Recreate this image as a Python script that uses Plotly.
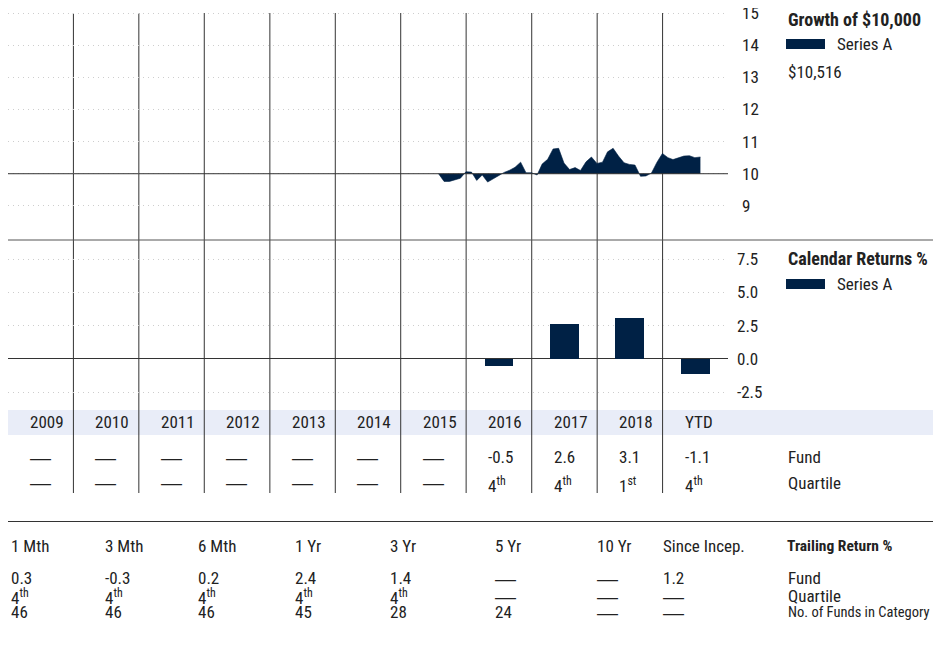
import plotly.graph_objects as go
import pandas as pd

W, H = 949, 652
FONT = "Roboto Condensed, Liberation Sans Narrow, Arial Narrow, DejaVu Sans Condensed, Roboto, sans-serif"
DASH_FONT = "Liberation Sans, Arial, sans-serif"
TXT = "#222222"
NAVY = "#002145"
GRID = "#cdcdcd"
LINE = "#333333"

# ---------------- data ----------------
years = ["2009", "2010", "2011", "2012", "2013", "2014", "2015", "2016", "2017", "2018", "YTD"]
growth_dates = pd.date_range("2015-07-31", "2019-07-31", freq="ME")
growth_values = [10.00, 9.76, 9.76, 9.80, 9.86, 10.06, 10.05, 9.79, 9.96, 9.74, 9.85, 9.95,
                 10.04, 10.11, 10.20, 10.36, 10.03, 10.03, 9.96, 10.30, 10.45, 10.77, 10.79, 10.33,
                 10.13, 10.19, 10.10, 10.37, 10.52, 10.32, 10.36, 10.68, 10.79, 10.55, 10.34, 10.29,
                 10.27, 9.92, 9.93, 10.02, 10.35, 10.63, 10.50, 10.44, 10.50, 10.55, 10.56, 10.50,
                 10.52]
growth_base = 10
growth_end_label = "$10,516"
growth_ticks = [9, 10, 11, 12, 13, 14, 15]
calendar_returns = [None, None, None, None, None, None, None, -0.5, 2.6, 3.1, -1.1]
calendar_quartile = [None, None, None, None, None, None, None, "4th", "4th", "1st", "4th"]
return_ticks = [-2.5, 0.0, 2.5, 5.0, 7.5]
return_ticktext = ["-2.5", "0.0", "2.5", "5.0", "7.5"]
trailing_periods = ["1 Mth", "3 Mth", "6 Mth", "1 Yr", "3 Yr", "5 Yr", "10 Yr", "Since Incep."]
trailing_fund = [0.3, -0.3, 0.2, 2.4, 1.4, None, None, 1.2]
trailing_quartile = ["4th", "4th", "4th", "4th", "4th", None, None, None]
trailing_count = [46, 46, 46, 45, 28, 24, None, None]
series_name = "Series A"

# ---------------- helpers (page pixel -> paper, page has 8px body margin) ----------------
OFF = 8


def px(x):
    return (x - OFF) / W


def py(y):
    return 1 - (y - OFF) / H


DASH = "—"
DASH_FS = 21
FS = 17


def qfmt(q):
    return f"{q[0]}<sup>{q[1:]}</sup>"


col_start = [f"{2009 + i}-01-01" for i in range(len(years))]
col_mid = [f"{2009 + i}-07-02" for i in range(len(years))]
year_ms = 365.25 * 24 * 3600 * 1000

fig = go.Figure()

# growth area: baseline at 10 and series filled to it
fig.add_trace(go.Scatter(x=growth_dates, y=[growth_base] * len(growth_values), mode="lines",
                         line=dict(width=0, color=NAVY), hoverinfo="skip", showlegend=False,
                         xaxis="x", yaxis="y"))
fig.add_trace(go.Scatter(x=growth_dates, y=growth_values, mode="lines", fill="tonexty",
                         fillcolor=NAVY, line=dict(width=0.6, color=NAVY), name=series_name,
                         showlegend=False, xaxis="x", yaxis="y"))

# calendar bars
fig.add_trace(go.Bar(x=col_mid, y=calendar_returns, marker=dict(color=NAVY, line=dict(width=0)),
                     width=[0.44 * year_ms] * len(years), name=series_name, showlegend=False,
                     xaxis="x2", yaxis="y2"))

xdom = [px(8), px(728)]
xr = [col_start[0], "2020-01-01"]
tickfont = dict(family=FONT, size=FS, color=TXT)
fig.update_layout(
    width=W, height=H, margin=dict(l=0, r=0, t=0, b=0, pad=0), autosize=False,
    paper_bgcolor="white", plot_bgcolor="white",
    font=dict(family=FONT, size=FS, color=TXT),
    xaxis=dict(domain=xdom, range=xr, type="date", showgrid=False, showticklabels=False,
               zeroline=False, showline=False, anchor="y", automargin=False),
    yaxis=dict(domain=[py(238), py(11.4)], range=[8, 15.05], side="right", tickvals=growth_ticks,
               showgrid=True, gridcolor=GRID, griddash="1px,4px", gridwidth=1, zeroline=False,
               ticks="", ticklabelstandoff=13, anchor="x", automargin=False, tickfont=tickfont,
               ticklabeloverflow="allow"),
    xaxis2=dict(domain=xdom, range=xr, type="date", showgrid=False, showticklabels=False,
                zeroline=False, showline=False, matches="x", anchor="y2", automargin=False),
    yaxis2=dict(domain=[py(410), py(240)], range=[-3.83, 8.93], side="right", tickvals=return_ticks,
                ticktext=return_ticktext, showgrid=True, gridcolor=GRID, griddash="1px,4px", gridwidth=1,
                zeroline=True, zerolinecolor=LINE, zerolinewidth=1, ticks="", ticklabelstandoff=8,
                anchor="x2", automargin=False, tickfont=tickfont, ticklabeloverflow="allow"),
    bargap=0,
)

shapes = []
# year band
shapes.append(dict(type="rect", xref="paper", yref="paper", x0=px(8), x1=px(933), y0=py(435), y1=py(410),
                   fillcolor="#e9edf8", line=dict(width=0), layer="below"))
# vertical year separators
for i in range(1, len(years)):
    shapes.append(dict(type="line", xref="x", yref="paper", x0=col_start[i], x1=col_start[i],
                       y0=py(493), y1=py(13), line=dict(color=LINE, width=1), layer="below"))
# 10,000 base line
shapes.append(dict(type="line", xref="paper", yref="y", x0=px(8), x1=px(728), y0=growth_base, y1=growth_base,
                   line=dict(color=LINE, width=1), layer="above"))
# separators
shapes.append(dict(type="line", xref="paper", yref="paper", x0=px(8), x1=px(933), y0=py(240), y1=py(240),
                   line=dict(color="#555555", width=1)))
shapes.append(dict(type="line", xref="paper", yref="paper", x0=px(8), x1=px(933), y0=py(521.5), y1=py(521.5),
                   line=dict(color="#333333", width=1)))
# legend swatches
for yc in (44, 284):
    shapes.append(dict(type="rect", xref="paper", yref="paper", x0=px(786), x1=px(825), y0=py(yc + 5),
                       y1=py(yc - 5), fillcolor=NAVY, line=dict(width=0)))
fig.update_layout(shapes=shapes)

ann = []


def text(x, y, s, size=FS, bold=False, xref="paper", xshift=0, yshift=0, family=FONT):
    ann.append(dict(x=x, y=y, xref=xref, yref="paper", text=(f"<b>{s}</b>" if bold else s),
                    showarrow=False, xanchor="left", yanchor="middle", xshift=xshift, yshift=yshift,
                    font=dict(family=family, size=size, color=TXT)))


def dash(x, y, xref="paper", xshift=0):
    text(x, y, DASH, size=DASH_FS, xref=xref, xshift=xshift, family=DASH_FONT)


# legends
text(px(786), py(19), "Growth of $10,000", size=18, bold=True)
text(px(835), py(44), series_name)
text(px(786), py(72), growth_end_label)
text(px(786), py(258), "Calendar Returns %", size=18, bold=True)
text(px(835), py(284), series_name)

# calendar table
CX = 20
for i, yr in enumerate(years):
    text(col_start[i], py(422), yr, xref="x2", xshift=CX)
    v = calendar_returns[i]
    if v is None:
        dash(col_start[i], py(457), xref="x2", xshift=CX)
    else:
        text(col_start[i], py(457), f"{v:.1f}", xref="x2", xshift=CX)
    q = calendar_quartile[i]
    if q is None:
        dash(col_start[i], py(482), xref="x2", xshift=CX)
    else:
        text(col_start[i], py(482), qfmt(q), xref="x2", xshift=CX, yshift=-3)
text(px(786), py(457), "Fund")
text(px(786), py(483), "Quartile")

# trailing table
tx = [9, 103, 196, 293, 388, 493, 595, 661]
for i, p in enumerate(trailing_periods):
    text(px(tx[i]), py(546), p)
    f = trailing_fund[i]
    if f is None:
        dash(px(tx[i]), py(578))
    else:
        text(px(tx[i]), py(578), f"{f:.1f}")
    q = trailing_quartile[i]
    if q is None:
        dash(px(tx[i]), py(596))
    else:
        text(px(tx[i]), py(596), qfmt(q), yshift=-1)
    c = trailing_count[i]
    if c is None:
        dash(px(tx[i]), py(612))
    else:
        text(px(tx[i]), py(612), str(c))
text(px(785), py(546), "Trailing Return %", size=15.5, bold=True)
text(px(786), py(578), "Fund")
text(px(786), py(596), "Quartile")
text(px(786), py(612), "No. of Funds in Category", size=14.5)

fig.update_layout(annotations=ann)
fig.write_html("out.html")
